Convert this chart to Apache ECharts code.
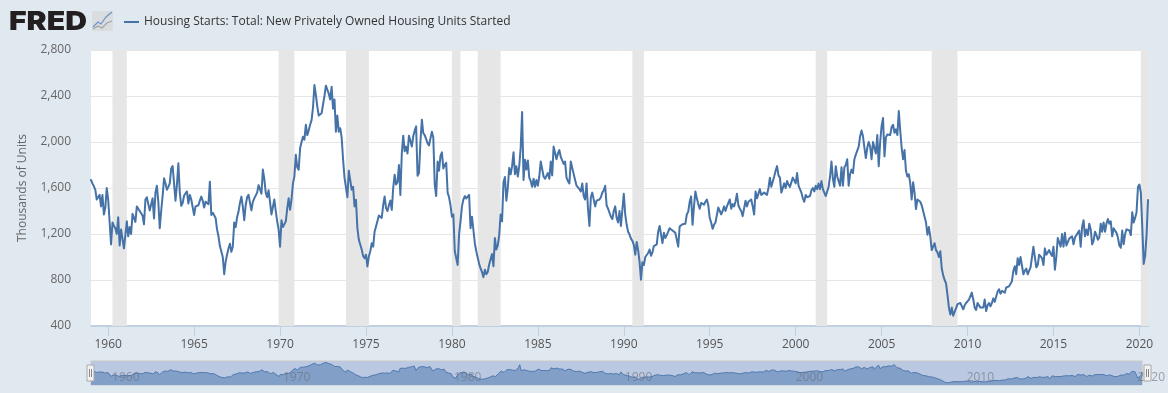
<!DOCTYPE html>
<html><head><meta charset="utf-8">
<script src="https://cdn.jsdelivr.net/npm/echarts@6/dist/echarts.min.js"></script>
<style>html,body{margin:0;padding:0;background:#E1E9F0}#c{width:1168px;height:393px}</style>
</head><body><div id="c"></div>
<script>
const seriesName = 'Housing Starts: Total: New Privately Owned Housing Units Started';
const yAxisTitle = 'Thousands of Units';
const startYear = 1959;
const values1950s = [
 1670,1640,1615,1585,1500,1510,1540,1440,1540,1370,1430,1600
];
const values1960s = [
 1500,1505,1110,1300,1270,1250,1200,1345,1100,1240,1240,1075,
 1190,1310,1180,1260,1200,1375,1340,1305,1440,1420,1400,1380,
 1360,1285,1500,1520,1460,1405,1420,1510,1335,1560,1620,1480,
 1250,1400,1530,1685,1640,1585,1610,1640,1770,1790,1640,1490,
 1630,1815,1560,1445,1470,1535,1540,1570,1465,1540,1500,1490,
 1365,1440,1430,1450,1490,1525,1490,1430,1480,1465,1460,1655,
 1365,1385,1395,1340,1240,1180,1095,1100,1000,850,960,1020,
 1075,1115,1045,1090,1300,1260,1345,1395,1470,1525,1440,1320,
 1450,1520,1540,1545,1405,1480,1510,1510,1560,1625,1590,1550,
 1760,1680,1560,1520,1580,1480,1370,1380,1500,1400,1310,1240
];
const values1970s = [
 1090,1320,1260,1270,1310,1420,1510,1410,1500,1640,1700,1890,
 1780,1760,1945,2000,2045,2020,2150,2060,2100,2150,2190,2300,
 2495,2410,2310,2230,2220,2250,2260,2400,2490,2485,2420,2370,
 2480,2290,2370,2090,2230,2090,2120,2040,1850,1690,1700,1520,
 1750,1745,1585,1610,1440,1498,1250,1150,1150,1065,1010,990,
 1020,918,1005,1050,1120,1090,1220,1265,1265,1360,1370,1340,
 1450,1527,1425,1400,1450,1490,1410,1600,1716,1630,1650,1800,
 1540,1900,2055,1920,1960,1900,2055,2010,1960,2050,2100,2136,
 1707,1730,2000,2194,2078,2060,2070,1990,1970,1980,2090,2040,
 1630,1530,1830,1750,1880,1910,1770,1800,1820,1560,1520,1450
];
const values1980s = [
 1350,1370,1050,1060,930,1200,1310,1440,1500,1530,1510,1500,
 1540,1250,1350,1350,1120,1050,1045,940,900,870,825,890,
 850,870,935,925,1025,920,1165,1065,1100,1190,1370,1310,
 1650,1695,1490,1600,1775,1720,1790,1910,1720,1790,1700,1790,
 1950,2260,1670,1846,1760,1840,1690,1660,1610,1680,1610,1670,
 1620,1700,1830,1840,1700,1680,1680,1730,1680,1830,1710,1960,
 1970,1850,1900,1930,1870,1840,1810,1830,1690,1660,1640,1830,
 1775,1790,1670,1620,1610,1590,1570,1640,1530,1500,1640,1420,
 1270,1520,1560,1570,1440,1490,1480,1500,1520,1560,1580,1620,
 1450,1420,1420,1350,1330,1400,1440,1340,1300,1400,1270,1260
];
const values1990s = [
 1550,1370,1280,1220,1195,1160,1140,1105,1020,1130,1060,960,
 803,955,930,1000,1000,1035,1065,1010,1040,1095,1100,1110,
 1220,1270,1280,1120,1210,1165,1190,1220,1250,1250,1230,1220,
 1210,1200,1090,1265,1270,1285,1270,1290,1370,1395,1480,1527,
 1280,1440,1570,1510,1460,1420,1470,1460,1455,1480,1500,1450,
 1340,1300,1245,1280,1300,1300,1430,1400,1370,1400,1440,1400,
 1440,1470,1500,1420,1460,1440,1480,1550,1450,1420,1400,1355,
 1360,1490,1440,1480,1480,1500,1440,1370,1570,1510,1520,1590,
 1540,1530,1560,1550,1540,1600,1690,1610,1600,1700,1750,1790,
 1710,1690,1560,1570,1640,1600,1660,1630,1610,1600,1690,1705
];
const values2000s = [
 1640,1730,1620,1610,1560,1510,1480,1540,1520,1530,1530,1580,
 1600,1570,1620,1590,1640,1590,1660,1590,1580,1530,1570,1610,
 1700,1830,1680,1610,1790,1700,1660,1620,1780,1620,1780,1800,
 1850,1620,1720,1760,1730,1850,1890,1900,1960,2050,2100,2050,
 1950,1860,1950,2000,1960,1850,2000,1990,1900,2060,1790,2000,
 2140,2208,1875,2040,2065,2070,2060,2130,2150,2080,2110,2060,
 2270,2100,1950,1850,1930,1750,1700,1720,1640,1500,1650,1560,
 1417,1500,1510,1480,1450,1450,1350,1300,1194,1260,1180,1060,
 1090,1120,1060,1040,1000,1050,900,840,800,770,670,560,
 500,560,490,480,555,590,600,600,590,545,580,600
];
const values2010s = [
 600,630,640,690,630,560,540,600,610,560,570,560,
 630,530,580,600,570,600,640,610,620,700,720,680,
 705,715,690,735,745,745,760,790,880,920,850,990,
 930,1000,1010,850,880,900,850,860,910,1000,1090,1000,
 910,930,1020,1030,990,930,1075,1020,1010,1060,1030,1010,
 1090,890,1000,1165,1150,1090,1200,1090,1210,1100,1130,1160,
 1150,1180,1110,1170,1170,1210,1230,1090,1260,1320,1180,1240,
 1190,1290,1240,1110,1140,1220,1190,1150,1170,1290,1220,1300,
 1220,1290,1330,1290,1310,1180,1250,1260,1210,1170,1100,1080,
 1230,1110,1200,1240,1250,1230,1190,1390,1300,1340,1390,1610
];
const values2020s = [1630,1560,1260,940,1010,1190,1495];
const recessions = [
 ['1960-04','1961-02'],['1969-12','1970-11'],['1973-11','1975-03'],
 ['1980-01','1980-07'],['1981-07','1982-11'],['1990-07','1991-03'],
 ['2001-03','2001-11'],['2007-12','2009-06'],['2020-02','2020-07']
];
const yTicks = {min:400, max:2800, step:400};

const values = [].concat(values1950s,values1960s,values1970s,values1980s,values1990s,values2000s,values2010s,values2020s);
const categories = values.map((_,i)=>{
  const y = startYear+Math.floor(i/12), m = i%12+1;
  return y+'-'+String(m).padStart(2,'0');
});
const every = n => (i,v)=> v.endsWith('-01') && (+v.slice(0,4))%n===0;
const font = '"Open Sans", sans-serif';

const chart = echarts.init(document.getElementById('c'),null,{renderer:'canvas'});
chart.setOption({
  animation:false,
  backgroundColor:'#E1E9F0',
  textStyle:{fontFamily:font},
  legend:{
    data:[{name:seriesName,icon:'rect'}],
    left:124, top:16, itemWidth:15, itemHeight:2, itemGap:5, padding:0,
    textStyle:{color:'#333',fontSize:12,fontFamily:font,padding:[0,0,0,0]},
    selectedMode:false
  },
  grid:[
    {left:91,right:20,top:50,height:276,show:true,backgroundColor:'#FFFFFF',borderWidth:0},
    {left:91,right:20,top:361,height:24,show:true,backgroundColor:'#BAC8E2',borderColor:'#C8C8C8',borderWidth:1,z:1}
  ],
  xAxis:[
    {type:'category',gridIndex:0,data:categories,boundaryGap:false,
     axisLine:{lineStyle:{color:'#C0D0E0',width:2}},
     axisTick:{show:true,alignWithLabel:true,interval:every(5),length:10,lineStyle:{color:'#C0D0E0'}},
     axisLabel:{interval:every(5),formatter:v=>v.slice(0,4),color:'#555',fontSize:12,margin:13,hideOverlap:false,fontFamily:font},
     splitLine:{show:false}},
    {type:'category',gridIndex:1,data:categories,boundaryGap:false,
     axisLine:{show:false},axisTick:{show:false},
     axisLabel:{inside:true,interval:every(10),formatter:v=>v.slice(0,4),color:'rgba(105,110,120,0.6)',fontSize:12,margin:1,
       align:'left',padding:[0,0,0,4],hideOverlap:false,showMaxLabel:true,fontFamily:font},
     splitLine:{show:false},z:5}
  ],
  yAxis:[
    {type:'value',gridIndex:0,min:yTicks.min,max:yTicks.max,interval:yTicks.step,
     name:yAxisTitle,nameLocation:'middle',nameGap:62,nameTextStyle:{color:'#666',fontSize:12,fontFamily:font},
     axisLine:{show:false},axisTick:{show:false},
     axisLabel:{color:'#666',fontSize:12,margin:20,padding:[5,0,0,0],fontFamily:font,formatter:v=>v.toLocaleString('en-US')},
     splitLine:{lineStyle:{color:'#E6E6E6',width:1}}},
    {type:'value',gridIndex:1,min:262,max:2630,show:false,splitLine:{show:false}}
  ],
  series:[
    {name:seriesName,type:'line',xAxisIndex:0,yAxisIndex:0,data:values,showSymbol:false,symbol:'none',
     lineStyle:{color:'#4572A7',width:2,join:'round',cap:'round'},itemStyle:{color:'#4572A7'},z:3,
     markArea:{silent:true,z:1,itemStyle:{color:'#E6E6E6',opacity:1},
       data:recessions.map(r=>[{xAxis:r[0]},{xAxis:r[1]}])}},
    {name:'navigator',type:'line',xAxisIndex:1,yAxisIndex:1,data:values,showSymbol:false,symbol:'none',
     lineStyle:{color:'#4F79AE',width:1},areaStyle:{color:'#829FC8',opacity:1,origin:'start'},z:2}
  ],
  graphic:[
    {type:'text',x:9,y:9,scaleX:1.16,z:10,style:{text:'FRED',fontFamily:'Inter, "Liberation Sans", sans-serif',fontWeight:900,fontSize:26,fill:'#231F20'}},
    {type:'rect',z:10,shape:{x:92,y:11,width:21,height:20,r:1},style:{fill:'#DADDE0'}},
    {type:'polyline',z:11,shape:{points:[[93,27],[98,22],[101,24],[106,17],[112,12]]},style:{fill:null,stroke:'#6F93C4',lineWidth:1.2}},
    {type:'polyline',z:11,shape:{points:[[93,29],[98,26],[102,28],[107,23],[112,21]]},style:{fill:null,stroke:'#A0A4A8',lineWidth:1.2}},
    {type:'rect',z:12,shape:{x:87,y:365,width:7,height:16},style:{fill:'#F2F2F2',stroke:'#A8A8A8',lineWidth:1}},
    {type:'line',z:13,shape:{x1:89.5,y1:369,x2:89.5,y2:377},style:{stroke:'#888',lineWidth:1}},
    {type:'line',z:13,shape:{x1:91.5,y1:369,x2:91.5,y2:377},style:{stroke:'#888',lineWidth:1}},
    {type:'rect',z:12,shape:{x:1144,y:365,width:7,height:16},style:{fill:'#F2F2F2',stroke:'#A8A8A8',lineWidth:1}},
    {type:'line',z:13,shape:{x1:1146.5,y1:369,x2:1146.5,y2:377},style:{stroke:'#888',lineWidth:1}},
    {type:'line',z:13,shape:{x1:1148.5,y1:369,x2:1148.5,y2:377},style:{stroke:'#888',lineWidth:1}}
  ]
});
</script></body></html>
